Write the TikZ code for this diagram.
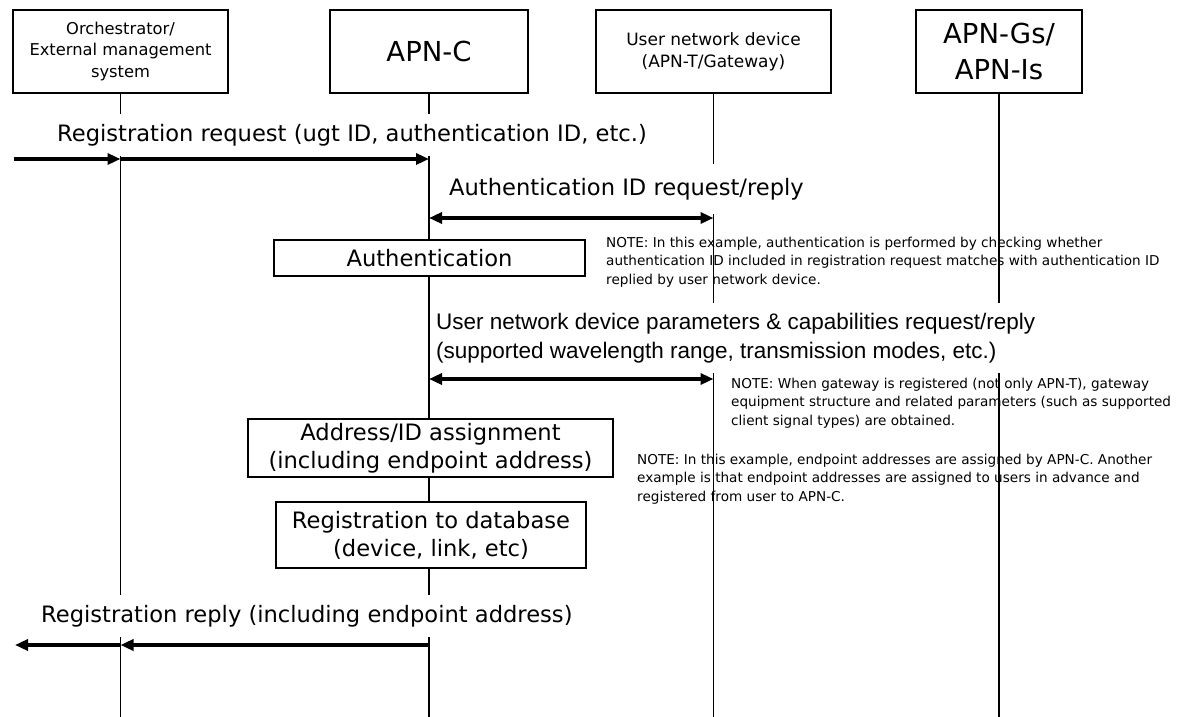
\documentclass[tikz,border=0pt]{standalone}
\usepackage{fontspec}
\setmainfont{DejaVu Sans}
\newfontfamily\arialfont{Liberation Sans}
\usetikzlibrary{positioning,arrows.meta}

\newcommand\msgsize{\fontsize{22.6}{28}\selectfont}
\newcommand\notesize{\fontsize{13.6}{18.8}\selectfont}

\begin{document}
\begin{tikzpicture}[
  x=1pt, y=1pt,
  entity/.style={draw, line width=1.4pt, fill=white, align=center,
                 inner sep=0pt, minimum height=83pt},
  procbox/.style={draw, line width=1.4pt, fill=white, align=center,
                  inner sep=0pt, font=\msgsize},
  msg/.style={fill=white, anchor=west, inner xsep=3pt, inner ysep=10.5pt,
              font=\msgsize},
  note/.style={anchor=north west, align=left, inner sep=0pt, font=\notesize},
  life/.style={line width=1.6pt},
  arr/.style={-{Triangle[length=13pt,width=11pt]}, line width=4pt},
  darr/.style={{Triangle[length=13pt,width=11pt]}-{Triangle[length=13pt,width=11pt]},
               line width=4pt}
]
  \useasboundingbox (0,0) rectangle (1181,-717);

  % entities
  \node[entity, minimum width=215pt, font=\fontsize{16.3}{21.5}\selectfont] (orch) at (120.5,-51.5)
    {Orchestrator/\\External management\\system};
  \node[entity, minimum width=198pt, font=\fontsize{27.5}{34}\selectfont] (apnc) at (429,-51.5) {APN-C};
  \node[entity, minimum width=235pt, font=\fontsize{17}{22}\selectfont] (und) at (713.5,-51.5)
    {User network device\\(APN-T/Gateway)};
  \node[entity, minimum width=166pt, font=\fontsize{27.5}{36}\selectfont] (apng) at (999,-51.5)
    {APN-Gs/\\APN-Is};

  % lifelines
  \coordinate (bottom) at (0,-717);
  \draw[life] (orch.south) -- (orch.south |- bottom);
  \draw[life] (apnc.south) -- (apnc.south |- bottom);
  \draw[life] (und.south)  -- (und.south |- bottom);
  \draw[life] (apng.south) -- (apng.south |- bottom);

  % notes
  \node[note] (note1) at (606,-236.5)
    {NOTE: In this example, authentication is performed by checking whether\\
     authentication ID included in registration request matches with authentication ID\\
     replied by user network device.};
  \node[note] (note2) at (731,-377.5)
    {NOTE: When gateway is registered (not only APN-T), gateway\\
     equipment structure and related parameters (such as supported\\
     client signal types) are obtained.};
  \node[note] (note3) at (637,-453.5)
    {NOTE: In this example, endpoint addresses are assigned by APN-C. Another\\
     example is that endpoint addresses are assigned to users in advance and\\
     registered from user to APN-C.};

  % messages
  \node[msg] (reqlbl) at (54,-135) {Registration request (ugt ID, authentication ID, etc.)};
  \node[msg, inner ysep=14pt] (authlbl) at (446,-189) {Authentication ID request/reply};
  \node[msg, align=left, font=\arialfont\fontsize{22.5}{29}\selectfont] (paramlbl) at (433,-338)
    {User network device parameters \& capabilities request/reply\\
     (supported wavelength range, transmission modes, etc.)};
  \node[msg] (replbl) at (38,-616) {Registration reply (including endpoint address)};

  % APN-C processing
  \node[procbox, minimum width=311pt, minimum height=36pt] (auth) at (429.5,-258) {Authentication};
  \node[procbox, minimum width=365pt, minimum height=58pt] (assign) at (430.5,-448)
    {Address/ID assignment\\(including endpoint address)};
  \node[procbox, minimum width=310pt, minimum height=66pt] (regdb) at (431,-535)
    {Registration to database\\(device, link, etc)};

  % arrows
  \coordinate (reqstart) at (14,-159);
  \draw[arr] (reqstart) -- (orch |- reqstart);
  \draw[arr] (orch |- reqstart) -- (apnc |- reqstart);

  \coordinate (authrow) at (0,-218);
  \draw[darr] (apnc |- authrow) -- (und |- authrow);

  \coordinate (paramrow) at (0,-379);
  \draw[darr] (apnc |- paramrow) -- (und |- paramrow);

  \coordinate (repend) at (15,-645);
  \draw[arr] (apnc |- repend) -- (orch |- repend);
  \draw[arr] (orch |- repend) -- (repend);
\end{tikzpicture}
\end{document}
